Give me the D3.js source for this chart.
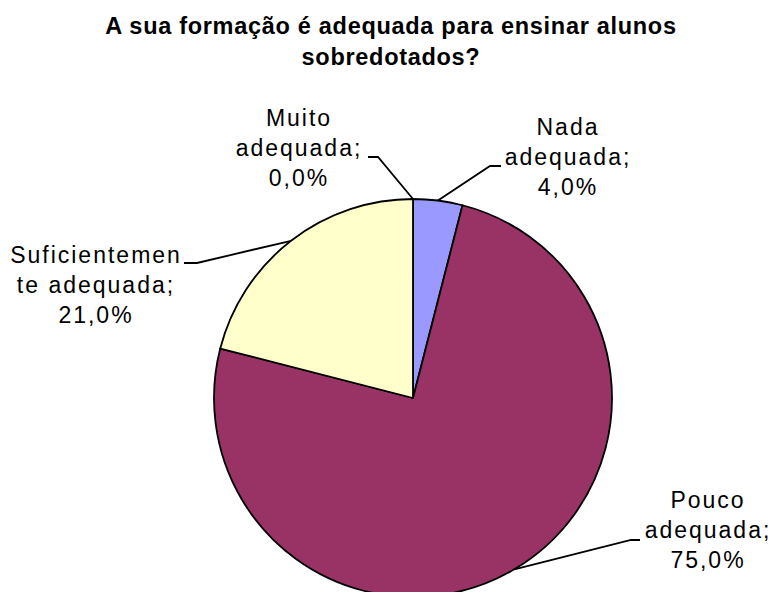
<!DOCTYPE html>
<html>
<head>
<meta charset="utf-8">
<script src="https://cdn.jsdelivr.net/npm/d3@7"></script>
<style>
  html, body { margin: 0; padding: 0; background: #fff; }
  svg { display: block; }
  text { font-family: "Liberation Sans", Arial, sans-serif; fill: #000; }
</style>
</head>
<body>
<svg id="chart" width="777" height="592"></svg>
<script>
// Data (order clockwise from 12 o'clock)
const categories = ["Nada adequada", "Pouco adequada", "Suficientemente adequada", "Muito adequada"];
const values = [4.0, 75.0, 21.0, 0.0];
const colors = ["#9999FF", "#993366", "#FFFFCC", "#FFFFFF"];
const labelLines = [
  ["Nada", "adequada;", "4,0%"],
  ["Pouco", "adequada;", "75,0%"],
  ["Suficientemen", "te adequada;", "21,0%"],
  ["Muito", "adequada;", "0,0%"]
];
const titleLines = ["A sua formação é adequada para ensinar alunos", "sobredotados?"];

const svg = d3.select("#chart");
const cx = 413, cy = 398, R = 199;

// Title
const title = svg.append("text")
  .attr("text-anchor", "middle")
  .style("font-weight", "bold")
  .style("font-size", "23.5px")
  .style("letter-spacing", "0.7px");
title.selectAll("tspan").data(titleLines).join("tspan")
  .attr("x", 391)
  .attr("y", (d, i) => 34 + i * 31)
  .text(d => d);

const data = categories.map((c, i) => ({ c, v: values[i], color: colors[i], lines: labelLines[i] }));

const pie = d3.pie().sort(null).value(d => d.v);
const arcs = pie(data);
const arc = d3.arc().innerRadius(0).outerRadius(R);

const g = svg.append("g").attr("transform", `translate(${cx},${cy})`);
g.selectAll("path").data(arcs.filter(a => a.data.v > 0)).join("path")
  .attr("d", arc)
  .attr("fill", d => d.data.color)
  .attr("stroke", "#000")
  .attr("stroke-width", 1.8)
  .attr("stroke-linejoin", "round");

// Label layout: text center + leader elbow
const labelPos = [
  { x: 568, y0: 135, elbow: [490, 166], end: [501, 166] },
  { x: 708, y0: 508, elbow: [631, 540], end: [640, 540] },
  { x: 96, y0: 263, elbow: [197, 263], end: [184, 263] },
  { x: 299, y0: 126, elbow: [378, 157], end: [368, 157] }
];

arcs.forEach((a, i) => {
  const lp = labelPos[i];
  const mid = (a.startAngle + a.endAngle) / 2;
  const px = cx + R * Math.sin(mid), py = cy - R * Math.cos(mid);
  svg.append("polyline")
    .attr("points", [[px, py], lp.elbow, lp.end].map(p => p.join(",")).join(" "))
    .attr("fill", "none")
    .attr("stroke", "#000")
    .attr("stroke-width", 1.8);
  const t = svg.append("text")
    .attr("text-anchor", "middle")
    .style("font-size", "23px")
    .style("letter-spacing", "2px");
  t.selectAll("tspan").data(a.data.lines).join("tspan")
    .attr("x", lp.x)
    .attr("y", (d, k) => lp.y0 + k * 30)
    .text(d => d);
});
</script>
</body>
</html>
